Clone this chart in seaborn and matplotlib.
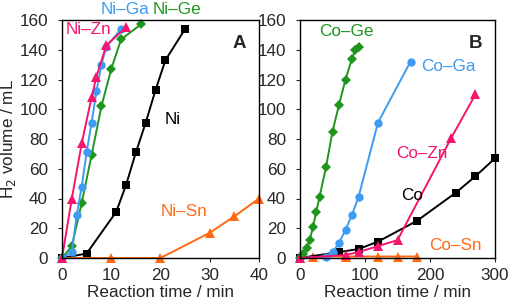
import numpy as np
import pandas as pd
import seaborn as sns
import matplotlib
matplotlib.use("Agg")
import matplotlib.pyplot as plt

sns.set_style("ticks")
plt.rcParams['font.family'] = ['Liberation Sans', 'DejaVu Sans']

# panel A, Ni catalysts (time in min, H2 in mL)
ni_t = [0, 5, 11, 13, 15, 17, 19, 21, 25]
ni_v = [0, 3, 31, 49, 71, 91, 113, 133, 154]
nizn_t = [0, 2, 4, 6, 7, 9, 13]
nizn_v = [0, 40, 77, 108, 122, 143, 155]
niga_t = [0, 2, 3, 4, 5, 6, 7, 8, 9, 12]
niga_v = [0, 4, 29, 48, 71, 91, 112, 130, 142, 154]
nige_t = [0, 2, 4, 6, 8, 10, 12, 16]
nige_v = [0, 8, 37, 69, 102, 127, 147, 157]
nisn_t = [0, 10, 20, 30, 35, 40]
nisn_v = [0, 0, 0, 17, 28, 40]

# panel B, Co catalysts
co_t = [0, 60, 90, 120, 180, 240, 270, 300]
co_v = [0, 4, 6, 11, 25, 44, 55, 67]
cozn_t = [0, 70, 90, 120, 150, 233, 270]
cozn_v = [0, 2, 4, 8, 12, 81, 110]
coga_t = [0, 40, 50, 60, 70, 80, 90, 120, 170]
coga_v = [0, 1, 4, 10, 19, 29, 41, 91, 132]
coge_t = [0, 5, 10, 15, 20, 25, 30, 40, 50, 60, 70, 80, 85, 90]
coge_v = [0, 3, 7, 12, 21, 31, 41, 61, 85, 103, 120, 134, 140, 142]
cosn_t = [0, 20, 70, 120, 150, 180]
cosn_v = [0, 1, 1, 1, 1, 1]

BLACK = '#000000'
PINK = '#F5146E'
BLUE = '#3D9BF2'
GREEN = '#1E961E'
ORANGE = '#FF6A13'

fig = plt.figure(figsize=(5.1, 3.08), dpi=100)
axA = fig.add_axes([62/510, 1-258/308, 197/510, 238/308])
axB = fig.add_axes([300/510, 1-258/308, 195/510, 238/308])


def draw(ax, t, v, color, marker, ms):
    sns.lineplot(x=t, y=v, ax=ax, color=color, marker=marker, markersize=ms,
                 markeredgewidth=0, linewidth=1.4, sort=False, estimator=None,
                 clip_on=False)


draw(axA, ni_t, ni_v, BLACK, 's', 6)
draw(axA, nisn_t, nisn_v, ORANGE, '^', 7)
draw(axA, nige_t, nige_v, GREEN, 'D', 5)
draw(axA, niga_t, niga_v, BLUE, 'o', 6)
draw(axA, nizn_t, nizn_v, PINK, '^', 7)

draw(axB, cosn_t, cosn_v, ORANGE, '^', 7)
draw(axB, co_t, co_v, BLACK, 's', 6)
draw(axB, coga_t, coga_v, BLUE, 'o', 6)
draw(axB, coge_t, coge_v, GREEN, 'D', 5)
draw(axB, cozn_t, cozn_v, PINK, '^', 7)

fs = 12.3
for ax, xmax, xt in [(axA, 40, [0, 10, 20, 30, 40]), (axB, 300, [0, 100, 200, 300])]:
    ax.set_xlim(0, xmax)
    ax.set_ylim(0, 160)
    ax.set_xticks(xt)
    ax.set_yticks(range(0, 161, 20))
    ax.tick_params(labelsize=fs, length=3, width=0.8, direction='out')
    ax.tick_params(axis='x', pad=4.5)
    ax.tick_params(axis='y', pad=7)
    for s in ax.spines.values():
        s.set_linewidth(1.0)
        s.set_color('black')
    ax.set_xlabel('Reaction time / min', fontsize=fs, labelpad=1)
    ax.set_ylabel('')

fig.text(9/510, 1-139/308, 'H$_2$ volume / mL', rotation=90, fontsize=fs,
         ha='center', va='center')

# panel A labels
axA.text(0.9, 0.9, 'A', transform=axA.transAxes, fontsize=13.5, fontweight='bold',
         ha='center', va='center')
fig.text(125/510, 1-10/308, 'Ni–Ga', color=BLUE, fontsize=fs, ha='center', va='center')
fig.text(177/510, 1-10/308, 'Ni–Ge', color=GREEN, fontsize=fs, ha='center', va='center')
fig.text(88/510, 1-29/308, 'Ni–Zn', color=PINK, fontsize=fs, ha='center', va='center')
fig.text(173/510, 1-119/308, 'Ni', color=BLACK, fontsize=fs, ha='center', va='center')
fig.text(184/510, 1-212/308, 'Ni–Sn', color=ORANGE, fontsize=fs, ha='center', va='center')

# panel B labels
axB.text(0.9, 0.9, 'B', transform=axB.transAxes, fontsize=13.5, fontweight='bold',
         ha='center', va='center')
fig.text(346/510, 1-31/308, 'Co–Ge', color=GREEN, fontsize=fs, ha='center', va='center')
fig.text(448/510, 1-67/308, 'Co–Ga', color=BLUE, fontsize=fs, ha='center', va='center')
fig.text(422/510, 1-153/308, 'Co–Zn', color=PINK, fontsize=fs, ha='center', va='center')
fig.text(412/510, 1-195/308, 'Co', color=BLACK, fontsize=fs, ha='center', va='center')
fig.text(455/510, 1-245/308, 'Co–Sn', color=ORANGE, fontsize=fs, ha='center', va='center')

fig.savefig('out.png', dpi=100)
